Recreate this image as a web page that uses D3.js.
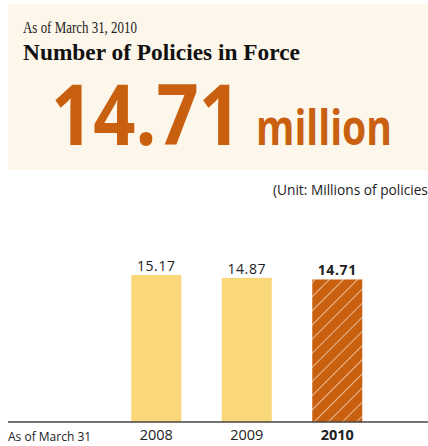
<!DOCTYPE html>
<html>
<head>
<meta charset="utf-8">
<script src="https://d3js.org/d3.v7.min.js"></script>
<style>
  body { margin: 0; background: #fff; }
  svg { display: block; }
</style>
</head>
<body>
<div id="chart"></div>
<script>
// data
var years = ["2008", "2009", "2010"];
var policies = [15.17, 14.87, 14.71];
var headline = "14.71";

var width = 428, height = 446;
var orange = "#c8600f", yellow = "#fad778";

var svg = d3.select("#chart").append("svg")
  .attr("width", width)
  .attr("height", height);

// hatch pattern for the latest year
var pat = svg.append("defs").append("pattern")
  .attr("id", "hatch")
  .attr("patternUnits", "userSpaceOnUse")
  .attr("width", 10).attr("height", 10)
  .attr("patternTransform", "rotate(45)");
pat.append("rect").attr("width", 10).attr("height", 10).attr("fill", orange);
pat.append("line").attr("x1", 0).attr("y1", 0).attr("x2", 0).attr("y2", 10)
  .attr("stroke", "#fbe3cc").attr("stroke-width", 1.4);

// header panel
svg.append("rect")
  .attr("x", 8).attr("y", 4).attr("width", 420).attr("height", 166)
  .attr("fill", "#fdf6ea");

svg.append("text")
  .attr("x", 23).attr("y", 33)
  .attr("font-family", "Liberation Serif, serif")
  .attr("font-size", 16)
  .attr("textLength", 114).attr("lengthAdjust", "spacingAndGlyphs")
  .attr("fill", "#222")
  .text("As of March 31, 2010");

svg.append("text")
  .attr("x", 23).attr("y", 60)
  .attr("font-family", "Liberation Serif, serif")
  .attr("font-weight", "bold")
  .attr("font-size", 24)
  .attr("textLength", 277).attr("lengthAdjust", "spacingAndGlyphs")
  .attr("fill", "#111")
  .text("Number of Policies in Force");

svg.append("text")
  .attr("x", 51).attr("y", 145)
  .attr("font-family", "Open Sans, sans-serif")
  .attr("font-weight", "bold")
  .attr("font-size", 84)
  .attr("textLength", 190).attr("lengthAdjust", "spacingAndGlyphs")
  .attr("fill", orange)
  .text(headline);

svg.append("text")
  .attr("x", 256).attr("y", 145)
  .attr("font-family", "Open Sans, sans-serif")
  .attr("font-weight", "bold")
  .attr("font-size", 48)
  .attr("textLength", 136).attr("lengthAdjust", "spacingAndGlyphs")
  .attr("fill", orange)
  .text("million");

svg.append("text")
  .attr("x", 273).attr("y", 195)
  .attr("font-family", "Open Sans, sans-serif")
  .attr("font-size", 13.7)
  .attr("fill", "#222")
  .text("(Unit: Millions of policies)");

// bar chart
var x = d3.scaleBand()
  .domain(years)
  .range([111, 382.5])
  .padding(0);

var y = d3.scaleLinear()
  .domain([0, 15.17])
  .range([422, 275]);

var bw = 50;
svg.selectAll(".bar")
  .data(years)
  .enter().append("rect")
  .attr("class", "bar")
  .attr("x", function(d) { return x(d) + x.bandwidth() / 2 - bw / 2; })
  .attr("width", bw)
  .attr("y", function(d, i) { return y(policies[i]); })
  .attr("height", function(d, i) { return y(0) - y(policies[i]); })
  .attr("fill", function(d, i) { return i == years.length - 1 ? "url(#hatch)" : yellow; });

svg.selectAll(".val")
  .data(years)
  .enter().append("text")
  .attr("class", "val")
  .attr("x", function(d) { return x(d) + x.bandwidth() / 2; })
  .attr("y", function(d, i) { return y(policies[i]) - 4; })
  .attr("text-anchor", "middle")
  .attr("font-family", "Open Sans, sans-serif")
  .attr("font-size", 14)
  .attr("letter-spacing", 0.6)
  .attr("font-weight", function(d, i) { return i == years.length - 1 ? "bold" : "normal"; })
  .attr("fill", "#222")
  .text(function(d, i) { return policies[i].toFixed(2); });

// axis
var xAxis = svg.append("g")
  .attr("transform", "translate(0,422)")
  .call(d3.axisBottom(x).tickSize(0).tickPadding(8));
xAxis.select(".domain").remove();
xAxis.selectAll("text")
  .attr("font-family", "Open Sans, sans-serif")
  .attr("font-size", 14.5)
  .attr("fill", "#222")
  .attr("font-weight", function(d, i) { return i == years.length - 1 ? "bold" : "normal"; });

svg.append("line")
  .attr("x1", 8).attr("x2", 428)
  .attr("y1", 422).attr("y2", 422)
  .attr("stroke", "#444").attr("stroke-width", 1.6);

svg.append("text")
  .attr("x", 8).attr("y", 441)
  .attr("font-family", "Open Sans, sans-serif")
  .attr("font-size", 12)
  .attr("fill", "#222")
  .text("As of March 31");
</script>
</body>
</html>
